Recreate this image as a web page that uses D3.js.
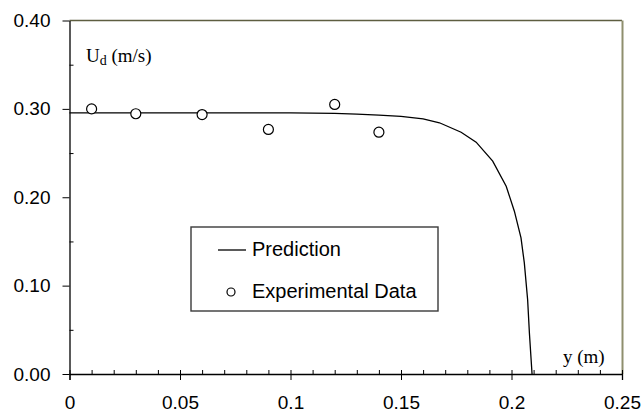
<!DOCTYPE html>
<html>
<head>
<meta charset="utf-8">
<script src="https://cdn.jsdelivr.net/npm/d3@7"></script>
<style>
  body { margin: 0; background: #fff; }
  svg { display: block; }
  .tick text { font-family: Arial, "Liberation Sans", sans-serif; }
</style>
</head>
<body>
<svg id="chart"></svg>
<script>
// prediction curve (y position, Ud)
const predY = [0, 0.02, 0.04, 0.06, 0.08, 0.10, 0.11, 0.12, 0.13, 0.14, 0.15, 0.16,
  0.1674, 0.1772, 0.184, 0.1915, 0.1976, 0.2013, 0.2043, 0.2058, 0.2073, 0.2081, 0.2093];
const predU = [0.2955, 0.2955, 0.2955, 0.2955, 0.2955, 0.2955, 0.2953, 0.2948, 0.294, 0.293, 0.2915, 0.2888,
  0.2843, 0.2736, 0.2623, 0.2408, 0.2125, 0.1842, 0.154, 0.1257, 0.0841, 0.0464, 0.0];

// experimental points
const expY = [0.01, 0.03, 0.06, 0.09, 0.12, 0.14];
const expU = [0.300, 0.2945, 0.2936, 0.2767, 0.305, 0.2736];

const xTicks = [0, 0.05, 0.1, 0.15, 0.2, 0.25];
const xTickLabels = ["0", "0.05", "0.1", "0.15", "0.2", "0.25"];
const yTicks = [0, 0.1, 0.2, 0.3, 0.4];
const yTickLabels = ["0.00", "0.10", "0.20", "0.30", "0.40"];
const legendLabels = ["Prediction", "Experimental Data"];

const width = 643, height = 414;
const margin = { top: 20.5, right: 21, bottom: 40, left: 69.5 };

const svg = d3.select("#chart").attr("width", width).attr("height", height);

const xScale = d3.scaleLinear().domain([0, 0.25]).range([margin.left, width - margin.right]);
const yScale = d3.scaleLinear().domain([0, 0.4]).range([height - margin.bottom, margin.top]);

// frame (top + right)
svg.append("line")
  .attr("x1", xScale(0)).attr("x2", xScale(0.25))
  .attr("y1", yScale(0.4)).attr("y2", yScale(0.4))
  .attr("stroke", "#5e5e40").attr("stroke-width", 1.6);
svg.append("line")
  .attr("x1", xScale(0.25) + 0.5).attr("x2", xScale(0.25) + 0.5)
  .attr("y1", yScale(0.4)).attr("y2", yScale(0))
  .attr("stroke", "#8f8f6e").attr("stroke-width", 2);

// x axis: minor ticks inward, major outward
svg.append("g")
  .attr("transform", `translate(0,${yScale(0)})`)
  .call(d3.axisBottom(xScale).tickValues(d3.range(0, 0.2501, 0.01)).tickSize(-4).tickFormat(""))
  .call(g => g.select(".domain").remove())
  .call(g => g.selectAll("line").attr("stroke", "#000"));

svg.append("g")
  .attr("transform", `translate(0,${yScale(0)})`)
  .call(d3.axisBottom(xScale).tickValues(xTicks).tickSize(6).tickPadding(16)
    .tickFormat((d, i) => xTickLabels[i]))
  .call(g => g.select(".domain").attr("stroke", "#000").attr("stroke-width", 1.3))
  .call(g => g.selectAll("text").attr("font-size", 19).attr("fill", "#000"));

// y axis
svg.append("g")
  .attr("transform", `translate(${xScale(0)},0)`)
  .call(d3.axisLeft(yScale).tickValues([0.05, 0.15, 0.25, 0.35]).tickSize(-4).tickFormat(""))
  .call(g => g.select(".domain").remove());

svg.append("g")
  .attr("transform", `translate(${xScale(0)},0)`)
  .call(d3.axisLeft(yScale).tickValues(yTicks).tickSize(7).tickSizeOuter(0).tickPadding(12)
    .tickFormat((d, i) => yTickLabels[i]))
  .call(g => g.select(".domain").attr("stroke", "#000").attr("stroke-width", 1.3))
  .call(g => g.selectAll("text").attr("font-size", 19).attr("fill", "#000"));

// prediction line
const line = d3.line()
  .x(d => xScale(d[0]))
  .y(d => yScale(d[1]));

svg.append("path")
  .datum(d3.zip(predY, predU))
  .attr("fill", "none")
  .attr("stroke", "#000")
  .attr("stroke-width", 1.3)
  .attr("d", line);

// experimental points
svg.selectAll(".dot")
  .data(d3.zip(expY, expU))
  .enter()
  .append("circle")
  .attr("class", "dot")
  .attr("cx", d => xScale(d[0]))
  .attr("cy", d => yScale(d[1]))
  .attr("r", 5)
  .attr("fill", "#fff")
  .attr("stroke", "#000")
  .attr("stroke-width", 1.2);

// axis titles
const ud = svg.append("text")
  .attr("x", 86).attr("y", 62)
  .attr("font-family", "'Liberation Serif', 'Times New Roman', serif")
  .attr("font-size", 19);
ud.append("tspan").text("U");
ud.append("tspan").attr("font-size", 14).attr("dy", 2.5).text("d");
ud.append("tspan").attr("dy", -2.5).text(" (m/s)");

svg.append("text")
  .attr("x", 563).attr("y", 363)
  .attr("font-family", "'Liberation Serif', 'Times New Roman', serif")
  .attr("font-size", 19)
  .text("y (m)");

// legend
const legend = svg.append("g");
legend.append("rect")
  .attr("x", 191).attr("y", 227).attr("width", 247).attr("height", 84)
  .attr("fill", "#fff").attr("stroke", "#3a3a3a").attr("stroke-width", 1.4);

legend.append("line")
  .attr("x1", 218).attr("x2", 246).attr("y1", 250).attr("y2", 250)
  .attr("stroke", "#000").attr("stroke-width", 1.3);
legend.append("circle")
  .attr("cx", 231).attr("cy", 292).attr("r", 4)
  .attr("fill", "#fff").attr("stroke", "#000").attr("stroke-width", 1.2);

legend.selectAll(".leg-text")
  .data(legendLabels)
  .enter()
  .append("text")
  .attr("class", "leg-text")
  .attr("x", 252)
  .attr("y", (d, i) => 256 + i * 42)
  .attr("font-family", "Arial, 'Liberation Sans', sans-serif")
  .attr("font-size", 20)
  .text(d => d);
</script>
</body>
</html>
